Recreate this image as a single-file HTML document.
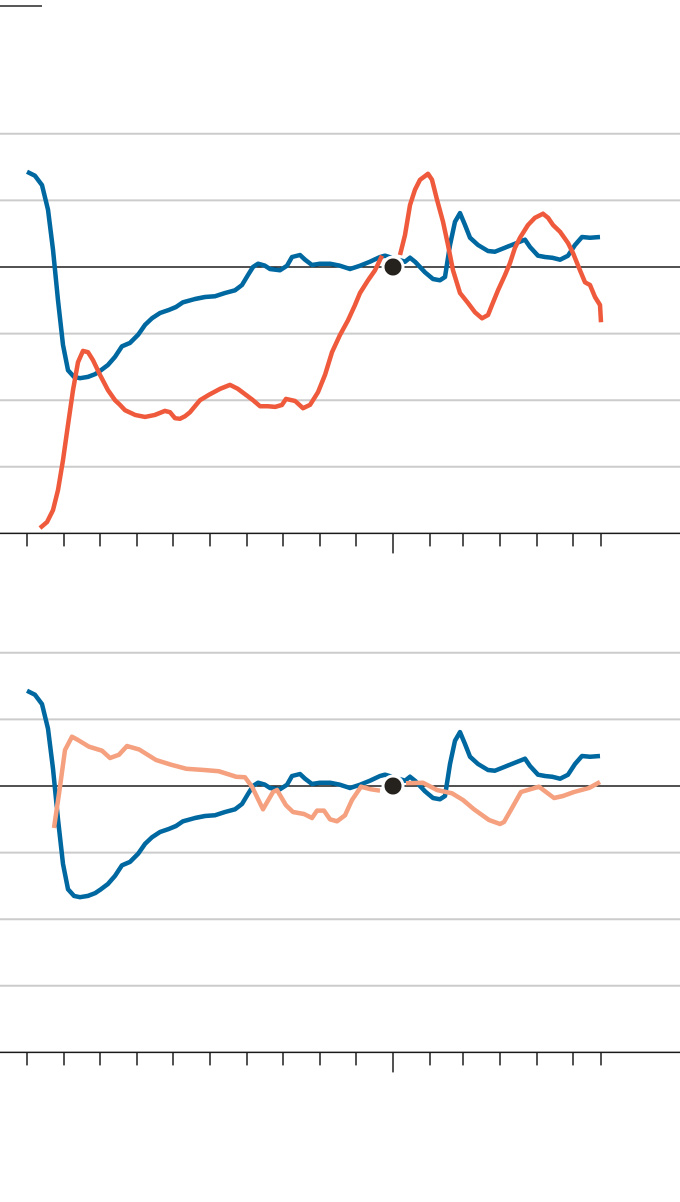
<!DOCTYPE html>
<html><head><meta charset="utf-8"><style>
html,body{margin:0;padding:0;background:#fff;}
svg{display:block;font-family:"Liberation Sans",sans-serif;}
</style></head><body>
<svg id="chart" width="680" height="1202" viewBox="0 0 680 1202" xmlns="http://www.w3.org/2000/svg">
<line x1="0" y1="6" x2="42" y2="6" stroke="#222" stroke-width="1.5"/>
<g id="top"></g>
<g id="bottom"></g>
</svg>
<script>
// values in grid units (10 per gridline), x in days since start
const gridValues = [20, 10, -10, -20, -30];
const tickDays = [0,37,73,110,146,183,220,256,293,329,366,403,436,473,510,546,574];
const markerDay = 366;
const markerValue = 0;

const blueDays = [0,8,15,21,26,31,36,41,47,53,61,68,73,81,88,95,103,111,118,125,133,141,149,156,168,178,188,198,208,215,221,226,231,238,243,253,260,265,273,278,285,293,303,313,323,333,343,353,358,378,383,388,398,406,413,418,423,428,433,438,443,451,461,468,478,488,498,503,511,518,525,533,541,548,555,563,573];
const blueValues = [14.3,13.7,12.3,8.6,2.6,-5.0,-11.7,-15.5,-16.5,-16.7,-16.5,-16.1,-15.6,-14.7,-13.5,-11.9,-11.4,-10.2,-8.7,-7.7,-6.9,-6.5,-6.0,-5.3,-4.8,-4.5,-4.4,-3.9,-3.5,-2.7,-1.2,0,0.5,0.2,-0.3,-0.5,0.2,1.5,1.8,1.1,0.3,0.5,0.5,0.2,-0.3,0.2,0.8,1.5,1.7,0.8,1.4,0.8,-0.8,-1.8,-2.0,-1.5,3.3,6.8,8.1,6.3,4.4,3.3,2.4,2.3,2.9,3.5,4.1,3.0,1.7,1.5,1.4,1.1,1.7,3.3,4.5,4.4,4.5];

const redDays = [13,20,26,31,36,41,46,51,56,61,66,73,81,88,93,98,108,118,128,138,143,148,153,158,163,173,183,193,203,211,218,226,233,241,248,255,259,268,276,283,291,298,305,313,321,328,333,341,348,355,null,373,378,383,388,393,401,405,410,416,421,426,433,441,448,455,461,465,471,478,483,488,493,501,508,516,521,526,533,541,546,553,558,563,568,573,574];
const redValues = [-39.2,-38.3,-36.5,-33.5,-29.0,-23.7,-18.5,-14.3,-12.6,-12.8,-14.0,-16.2,-18.5,-20.0,-20.7,-21.5,-22.2,-22.5,-22.2,-21.6,-21.8,-22.7,-22.8,-22.4,-21.8,-20.0,-19.1,-18.3,-17.7,-18.3,-19.1,-20.0,-20.9,-20.9,-21.0,-20.7,-19.8,-20.1,-21.2,-20.7,-18.8,-16.2,-12.8,-10.2,-8.0,-5.7,-3.9,-2.0,-0.5,1.7,null,1.8,4.8,9.3,11.6,13.1,14.0,13.1,10.1,6.8,3.3,-0.5,-3.9,-5.4,-6.8,-7.7,-7.2,-5.7,-3.5,-1.2,0.6,2.9,4.4,6.3,7.4,8.0,7.4,6.3,5.3,3.6,2.1,-0.5,-2.3,-2.7,-4.5,-5.7,-8.3];

const peachDays = [27,33,38,45,51,62,75,83,92,100,112,129,144,159,177,192,209,218,225,236,246,250,259,266,277,285,290,297,303,310,318,325,334,344,353,null,379,396,410,425,436,447,462,473,477,485,494,512,527,536,547,562,573];
const peachValues = [-6.3,-0.1,5.4,7.4,6.9,5.9,5.3,4.2,4.7,6.0,5.5,3.9,3.2,2.6,2.4,2.2,1.4,1.3,-0.1,-3.5,-0.9,-0.6,-2.9,-3.9,-4.2,-4.8,-3.7,-3.7,-5.0,-5.3,-4.4,-2.1,-0.1,-0.5,-0.7,null,0.4,0.5,-0.6,-1.1,-2.1,-3.5,-5.1,-5.7,-5.4,-3.3,-0.9,-0.1,-1.8,-1.5,-0.9,-0.3,0.6];

const NS = "http://www.w3.org/2000/svg";
const xScale = d => 27 + d * 1.0;
const PX_PER_UNIT = 6.66;

function mk(parent, tag, attrs) {
  const el = document.createElementNS(NS, tag);
  for (const k in attrs) el.setAttribute(k, attrs[k]);
  parent.appendChild(el);
  return el;
}

function drawPanel(g, zeroY, series) {
  const yScale = v => zeroY - v * PX_PER_UNIT;
  gridValues.forEach(v => {
    const l = mk(g, 'line', {x1:0, x2:680, y1:yScale(v), y2:yScale(v), stroke:'#cccccc', 'stroke-width':2});
    
    
  });
  const zl = mk(g, 'line', {x1:0, x2:680, y1:zeroY, y2:zeroY, stroke:'#1a1a1a', 'stroke-width':1.5});
  
  
  const axisY = yScale(-40);
  const ax = mk(g, 'line', {x1:0, x2:680, y1:axisY, y2:axisY, stroke:'#1a1a1a', 'stroke-width':1.5});
  
  
  tickDays.forEach(d => {
    const len = d === markerDay ? 20 : 13;
    const t = mk(g, 'line', {x1:xScale(d), x2:xScale(d), y1:axisY, y2:axisY + len, stroke:'#1a1a1a', 'stroke-width':1.5});
    
    
  });
  series.forEach(s => {
    let d = '', pen = false;
    for (let i = 0; i < s.days.length; i++) {
      if (s.days[i] === null || s.vals[i] === null) { pen = false; continue; }
      d += (pen ? 'L' : 'M') + xScale(s.days[i]).toFixed(1) + ',' + yScale(s.vals[i]).toFixed(1);
      pen = true;
    }
    const p = mk(g, 'path', {d:d, fill:'none', stroke:s.color, 'stroke-width':4.5, 'stroke-linejoin':'round', 'stroke-linecap':'butt'});
    
    
  });
  const c = mk(g, 'circle', {cx:xScale(markerDay), cy:yScale(markerValue), r:10, fill:'#25211d', stroke:'#fff', 'stroke-width':3});
  
  
}

drawPanel(document.getElementById('top'), 267, [
  {days: blueDays, vals: blueValues, color: '#0068a0', name: 'blue-series-line'},
  {days: redDays, vals: redValues, color: '#ef5a3c', name: 'red-series-line'}
]);
drawPanel(document.getElementById('bottom'), 786, [
  {days: blueDays, vals: blueValues, color: '#0068a0', name: 'blue-series-line'},
  {days: peachDays, vals: peachValues, color: '#f5a07f', name: 'peach-series-line'}
]);
</script>
</body></html>
